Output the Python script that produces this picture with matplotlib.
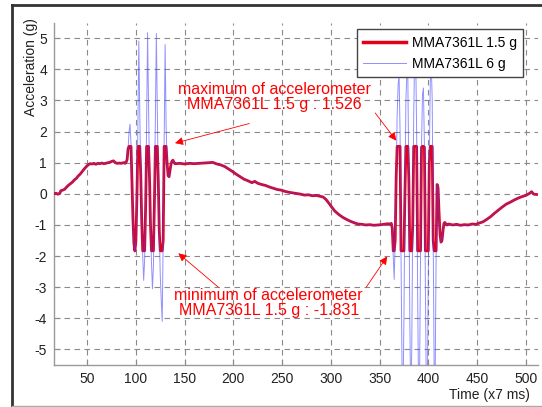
import numpy as np
import matplotlib
matplotlib.use("Agg")
import matplotlib.pyplot as plt
from matplotlib.lines import Line2D

plt.rcParams["font.family"] = ["Liberation Sans", "DejaVu Sans"]
plt.rcParams["axes.unicode_minus"] = False

# shared trace (both sensors agree outside the shaking bursts)
pre_t = [16, 18, 20, 22, 23, 25, 27, 29, 31, 33, 35, 37, 39, 41, 43, 45, 47, 49, 51,
         53, 55, 57, 59, 61, 63, 65, 67, 69, 71, 73, 75, 77, 79, 81, 83, 85, 87]
pre_y = [0.00, 0.02, -0.01, 0.02, 0.10, 0.12, 0.15, 0.22, 0.28, 0.33, 0.38, 0.45, 0.50,
         0.58, 0.64, 0.72, 0.80, 0.87, 0.93, 0.97, 0.96, 0.98, 0.95, 0.98, 0.97, 0.99,
         0.97, 0.98, 1.00, 1.01, 1.04, 1.06, 1.00, 0.98, 0.99, 0.98, 1.00]

mid_t = [141, 145, 150, 155, 160, 165, 170, 175, 179, 183, 187, 191, 195, 199, 203, 207,
         211, 215, 219, 222, 225, 229, 233, 237, 241, 245, 249, 253, 257, 261, 265, 269,
         273, 277, 281, 285, 289, 292, 295, 298, 301, 304, 308, 312, 316, 320, 324, 328,
         332, 336, 340, 344, 348, 352, 356, 359]
mid_y = [0.97, 0.98, 0.96, 0.98, 0.97, 0.98, 0.99, 1.00, 1.01, 0.96, 0.93, 0.88, 0.80,
         0.72, 0.63, 0.55, 0.47, 0.42, 0.36, 0.40, 0.34, 0.30, 0.27, 0.22, 0.18, 0.14,
         0.12, 0.08, 0.05, 0.03, 0.01, -0.01, -0.04, -0.03, -0.06, -0.05, -0.08, -0.10,
         -0.18, -0.30, -0.43, -0.55, -0.66, -0.75, -0.82, -0.88, -0.93, -0.97, -0.98,
         -1.00, -0.99, -1.01, -1.00, -0.99, -0.97, -0.96]

post_t = [421, 425, 429, 433, 437, 441, 445, 449, 452, 456, 460, 464, 468, 472, 476, 480,
          484, 488, 492, 496, 500, 504, 506, 508, 511]
post_y = [-0.97, -1.00, -0.98, -1.01, -0.99, -1.00, -0.97, -0.98, -0.94, -0.90, -0.82,
          -0.73, -0.62, -0.52, -0.42, -0.33, -0.27, -0.20, -0.14, -0.09, -0.05, 0.02,
          0.07, -0.01, -0.02]

# burst 1, samples 88..140
burst1_start = 88
burst1_blue = [1.00, 0.98, 1.02, 1.10, 1.45, 2.00, 2.24, 1.60, 0.40, -0.80, -1.60, -1.87,
               -1.50, -0.20, 2.00, 4.91, 2.60, 0.60, -0.90, -2.00, -2.78, -2.10, -0.40,
               2.20, 5.18, 2.80, 0.50, -1.00, -2.20, -3.05, -2.30, -0.30, 2.40, 5.15, 2.60,
               0.40, -1.20, -2.60, -3.40, -4.10, -1.50, 1.80, 4.80, 2.20, 1.00, 0.60, 0.55,
               0.75, 0.95, 1.05, 1.08, 1.02, 0.97]
burst1_red = [1.00, 0.98, 1.02, 1.10, 1.45, 1.526, 1.526, 1.526, 0.40, -0.80, -1.60,
              -1.831, -1.50, -0.20, 1.526, 1.526, 1.526, 0.60, -0.90, -1.831, -1.831,
              -1.831, -0.40, 1.526, 1.526, 1.526, 0.50, -1.00, -1.831, -1.831, -1.831,
              -0.30, 1.526, 1.526, 1.526, 0.40, -1.20, -1.831, -1.831, -1.831, -1.50,
              1.526, 1.526, 1.526, 1.00, 0.60, 0.55, 0.75, 0.95, 1.05, 1.08, 1.02, 0.97]

# burst 2, samples 360..420
burst2_start = 360
burst2_blue = [-0.97, -0.98, -0.95, -1.10, -2.00, -2.75, -1.50, 0.50, 2.50, 3.50, 3.80,
               2.00, -2.00, -5.50, -6.50, -4.00, 0.00, 3.00, 3.90, 3.70, 0.50, -4.00,
               -6.80, -5.00, -1.00, 2.50, 4.50, 4.60, 2.00, -3.00, -6.50, -6.00, -2.00,
               1.50, 3.20, 3.40, 1.50, -3.00, -6.50, -6.20, -2.50, 1.00, 3.60, 4.20, 3.00,
               -1.50, -5.80, -6.00, -2.00, 0.30, 0.20, -0.60, -1.30, -1.55, -1.50, -1.20,
               -0.95, -0.92, -0.97, -1.00, -0.98]
burst2_red = [-0.97, -0.98, -0.95, -1.10, -1.831, -1.831, -1.50, 0.50, 1.526, 1.526,
              1.526, 1.526, -1.831, -1.831, -1.831, -1.831, 0.00, 1.526, 1.526, 1.526,
              0.50, -1.831, -1.831, -1.831, -1.00, 1.526, 1.526, 1.526, 1.526, -1.831,
              -1.831, -1.831, -1.831, 1.50, 1.526, 1.526, 1.50, -1.831, -1.831, -1.831,
              -1.831, 1.00, 1.526, 1.526, 1.526, -1.50, -1.831, -1.831, -1.831, 0.30,
              0.20, -0.60, -1.30, -1.55, -1.50, -1.20, -0.95, -0.92, -0.97, -1.00, -0.98]

labels = ["MMA7361L 1.5 g", "MMA7361L 6 g"]
x_ticks = [50, 100, 150, 200, 250, 300, 350, 400, 450, 500]
y_ticks = [-5, -4, -3, -2, -1, 0, 1, 2, 3, 4, 5]


def build(burst1, burst2):
    b1_t = np.arange(burst1_start, burst1_start + len(burst1))
    b2_t = np.arange(burst2_start, burst2_start + len(burst2))
    t = np.concatenate([pre_t, b1_t, mid_t, b2_t, post_t])
    y = np.concatenate([pre_y, burst1, mid_y, burst2, post_y])
    return t, y


W, H = 542, 407
fig = plt.figure(figsize=(W / 100, H / 100), dpi=100)


def fx(px):
    return px / W


def fy(py):
    return 1 - py / H


ax = fig.add_axes([fx(54), fy(365), fx(537.5) - fx(54), fy(22.7) - fy(365)])

t_red, y_red = build(burst1_red, burst2_red)
t_blue, y_blue = build(burst1_blue, burst2_blue)
ax.plot(t_red, y_red, color="#e2001a", lw=2.0, label=labels[0], zorder=3)
ax.plot(t_blue, y_blue, color="#4646ff", lw=0.7, alpha=0.6, label=labels[1], zorder=4)

ax.set_xlim(16, 512)
ax.set_ylim(-5.5, 5.5)
ax.set_xticks(x_ticks)
ax.set_yticks(y_ticks)
ax.grid(True, color="#8a8a8a", linestyle=(0, (5, 4)), lw=0.8)
ax.tick_params(direction="in", length=4, color="#8a8a8a", labelsize=10,
               labelcolor="#222222", pad=5)
for s in ["top", "right"]:
    ax.spines[s].set_visible(False)
for s in ["left", "bottom"]:
    ax.spines[s].set_color("#9a9a9a")
    ax.spines[s].set_linewidth(1.0)

fig.text(fx(31.5), fy(18), "Acceleration (g)", rotation=90, ha="center", va="top",
         fontsize=10, color="#222222")
fig.text(fx(530), fy(395), "Time (x7 ms)", ha="right", va="center",
         fontsize=10, color="#222222")

leg = ax.legend(loc="upper right", bbox_to_anchor=(fx(523), fy(29.4)),
                bbox_transform=fig.transFigure, borderaxespad=0, fontsize=10,
                fancybox=False, handlelength=3.1, handletextpad=0.4,
                labelspacing=0.5, borderpad=0.45, framealpha=1, edgecolor="#444444")
leg.get_frame().set_linewidth(1.0)
leg.get_lines()[0].set_linewidth(2.5)

ax.text(242.5, 3.12, "maximum of accelerometer\nMMA7361L 1.5 g : 1.526", color="red",
        fontsize=11.5, ha="center", va="center", linespacing=1.0, zorder=5)
ax.text(236.3, -3.52, "minimum of accelerometer\nMMA7361L 1.5 g : -1.831", color="red",
        fontsize=11.5, ha="center", va="center", linespacing=1.0, zorder=5)

arrows = [((216.4, 2.26), (140.1, 1.63)), ((345.5, 2.6), (367.1, 1.71)),
          ((184.6, -3.0), (143.6, -1.91)), ((336.3, -3.0), (357.8, -2.01))]
for tail, head in arrows:
    ax.annotate("", xy=head, xytext=tail,
                arrowprops=dict(arrowstyle="-|>", color="red", lw=0.6,
                                mutation_scale=12, shrinkA=0, shrinkB=0), zorder=6)

# outer frame of the screenshot
fig.add_artist(Line2D([fx(11.7), fx(11.7)], [fy(5), fy(406)], color="#333333", lw=2))
fig.add_artist(Line2D([fx(11.7), 1], [fy(5), fy(5)], color="#333333", lw=2))
fig.add_artist(Line2D([fx(11.7), 1], [fy(406), fy(406)], color="#aaaaaa", lw=1))

fig.savefig("out.png", dpi=100)
